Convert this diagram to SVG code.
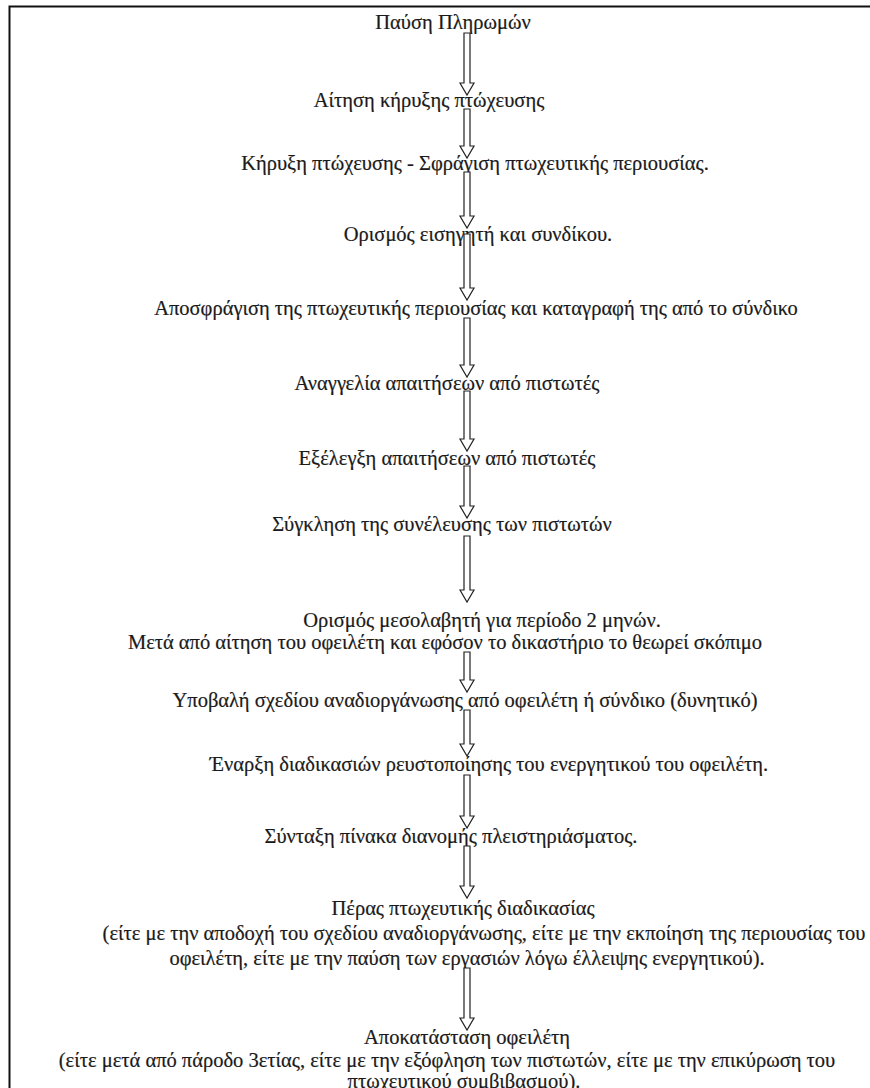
<svg xmlns="http://www.w3.org/2000/svg" width="870" height="1088" viewBox="0 0 870 1088">
<style>
text{font-family:"Liberation Serif","Times New Roman",serif;font-size:20.5px;fill:#1a1a1a;text-anchor:middle;stroke:#1a1a1a;stroke-width:0.2}
.arr{fill:#fff;stroke:#222;stroke-width:1.2;stroke-linejoin:miter}
.frame{fill:none;stroke:#111;stroke-width:2}
</style>
<rect width="870" height="1088" fill="#fff"/>
<path class="frame" d="M9.5 1088 V6.5 H870"/>
<g id="n1"><text x="453" y="29">Παύση Πληρωμών</text></g>
<g id="n2"><text x="429" y="107">Αίτηση κήρυξης πτώχευσης</text></g>
<g id="n3"><text x="475" y="170">Κήρυξη πτώχευσης - Σφράγιση πτωχευτικής περιουσίας.</text></g>
<g id="n4"><text x="478" y="241">Ορισμός εισηγητή και συνδίκου.</text></g>
<g id="n5"><text x="476" y="315">Αποσφράγιση της πτωχευτικής περιουσίας και καταγραφή της από το σύνδικο</text></g>
<g id="n6"><text x="447" y="390">Αναγγελία απαιτήσεων από πιστωτές</text></g>
<g id="n7"><text x="447" y="465">Εξέλεγξη απαιτήσεων από πιστωτές</text></g>
<g id="n8"><text x="442" y="531">Σύγκληση της συνέλευσης των πιστωτών</text></g>
<g id="n9"><text x="482" y="627">Ορισμός μεσολαβητή για περίοδο 2 μηνών.</text><text x="445" y="649">Μετά από αίτηση του οφειλέτη και εφόσον το δικαστήριο το θεωρεί σκόπιμο</text></g>
<g id="n10"><text x="465" y="707">Υποβαλή σχεδίου αναδιοργάνωσης από οφειλέτη ή σύνδικο (δυνητικό)</text></g>
<g id="n11"><text x="489" y="771">Έναρξη διαδικασιών ρευστοποίησης του ενεργητικού του οφειλέτη.</text></g>
<g id="n12"><text x="451" y="843">Σύνταξη πίνακα διανομής πλειστηριάσματος.</text></g>
<g id="n13"><text x="463" y="915">Πέρας πτωχευτικής διαδικασίας</text><text x="484" y="940">(είτε με την αποδοχή του σχεδίου αναδιοργάνωσης, είτε με την εκποίηση της περιουσίας του</text><text x="467" y="965">οφειλέτη, είτε με την παύση των εργασιών λόγω έλλειψης ενεργητικού).</text></g>
<g id="n14"><text x="467" y="1044">Αποκατάσταση οφειλέτη</text><text x="447" y="1067">(είτε μετά από πάροδο 3ετίας, είτε με την εξόφληση των πιστωτών, είτε με την επικύρωση του</text><text x="464" y="1088">πτωχευτικού συμβιβασμού).</text></g>
<g id="connectors">
<path class="arr" d="M464 33 H470 V83 H474 L467 95 L460 83 H464 Z"/>
<path class="arr" d="M464 109 H470 V146 H474 L467 158 L460 146 H464 Z"/>
<path class="arr" d="M464 172 H470 V216 H474 L467 228 L460 216 H464 Z"/>
<path class="arr" d="M464 234 H470 V288 H474 L467 300 L460 288 H464 Z"/>
<path class="arr" d="M464 318 H470 V365 H474 L467 377 L460 365 H464 Z"/>
<path class="arr" d="M464 391 H470 V439 H474 L467 451 L460 439 H464 Z"/>
<path class="arr" d="M464 466 H470 V506 H474 L467 518 L460 506 H464 Z"/>
<path class="arr" d="M464 536 H470 V590 H474 L467 602 L460 590 H464 Z"/>
<path class="arr" d="M464 652 H470 V680 H474 L467 692 L460 680 H464 Z"/>
<path class="arr" d="M464 710 H470 V744 H474 L467 756 L460 744 H464 Z"/>
<path class="arr" d="M464 775 H470 V816 H474 L467 828 L460 816 H464 Z"/>
<path class="arr" d="M464 846 H470 V886 H474 L467 898 L460 886 H464 Z"/>
<path class="arr" d="M464 968 H470 V1018 H474 L467 1030 L460 1018 H464 Z"/>
</g>
</svg>
